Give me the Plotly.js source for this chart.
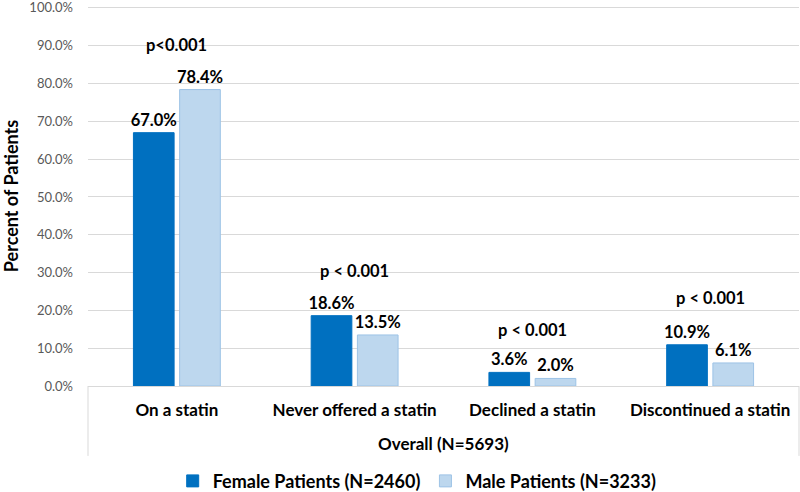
<!DOCTYPE html>
<html><head><meta charset="utf-8">
<script src="https://cdn.plot.ly/plotly-3.0.1.min.js"></script>
<style>body{margin:0;background:#fff}#c{width:800px;height:492px}</style>
</head><body><div id="c"></div>
<script>
const categories = ["On a statin", "Never offered a statin", "Declined a statin", "Discontinued a statin"];
const female = [67.0, 18.6, 3.6, 10.9];
const male = [78.4, 13.5, 2.0, 6.1];
const pLabels = ["p<0.001", "p < 0.001", "p < 0.001", "p < 0.001"];
const pY = [90.3, 30.4, 14.7, 23.4];
const groupLabel = "Overall (N=5693)";
const femaleName = "Female Patients (N=2460)";
const maleName = "Male Patients (N=3233)";
const yTicks = [0,10,20,30,40,50,60,70,80,90,100];

const F = "Lato, 'Open Sans', sans-serif";
const lblFont = {family: F, size: 16.5, color: "#000000", weight: "bold"};

const traces = [
  {type: "bar", x: categories, y: female, name: femaleName,
   marker: {color: "#0070C0", line: {color: "#0070C0", width: 1}},
   text: female.map(v => v.toFixed(1) + "%"), textposition: "outside", constraintext: "none",
   textfont: lblFont, cliponaxis: false},
  {type: "bar", x: categories, y: male, name: maleName,
   marker: {color: "#BDD7EE", line: {color: "#9DC3E6", width: 1}},
   text: male.map(v => v.toFixed(1) + "%"), textposition: "outside", constraintext: "none",
   textfont: lblFont, cliponaxis: false}
];

const annotations = categories.map((c, i) => ({
  x: c, y: pY[i], xref: "x", yref: "y", text: pLabels[i], showarrow: false,
  font: lblFont
}));
annotations.push({x: 0.5, y: -0.151, xref: "paper", yref: "paper", yanchor: "middle", text: groupLabel,
  showarrow: false, font: {family: F, size: 17, color: "#000", weight: "bold"}});

const layout = {
  width: 800, height: 492,
  margin: {l: 88, r: 1, t: 6, b: 106, autoexpand: false},
  paper_bgcolor: "#fff", plot_bgcolor: "#fff",
  barmode: "group", bargap: 0.48, bargroupgap: 0.12,
  showlegend: true,
  legend: {orientation: "h", x: 0.463, xanchor: "center", yref: "container", y: 0.022, yanchor: "middle",
    font: {family: F, size: 18, color: "#000", weight: "bold"}, tracegroupgap: 0},
  xaxis: {type: "category", showline: true, linecolor: "#D9D9D9", linewidth: 1,
    ticks: "", tickfont: {family: F, size: 17, color: "#000", weight: "bold"},
    ticklabelstandoff: 9},
  yaxis: {range: [0, 100.5], tickvals: yTicks, ticktext: yTicks.map(v => v.toFixed(1) + "%"),
    showgrid: true, gridcolor: "#D9D9D9", gridwidth: 1, zeroline: false,
    tickfont: {family: F, size: 13, color: "#595959"}, ticklabelstandoff: 14,
    ticklabeloverflow: "allow",
    title: {text: "Percent of Patients", font: {family: F, size: 18, color: "#000", weight: "bold"}, standoff: 10}},
  shapes: [
    {type: "line", xref: "paper", yref: "paper", x0: 0, x1: 0, y0: 0, y1: -0.184,
     line: {color: "#D9D9D9", width: 1}},
    {type: "line", xref: "paper", yref: "paper", x0: 1, x1: 1, y0: 0, y1: -0.184,
     line: {color: "#D9D9D9", width: 1}}
  ],
  annotations: annotations
};

Plotly.newPlot("c", traces, layout, {displayModeBar: false, staticPlot: true});
</script></body></html>
